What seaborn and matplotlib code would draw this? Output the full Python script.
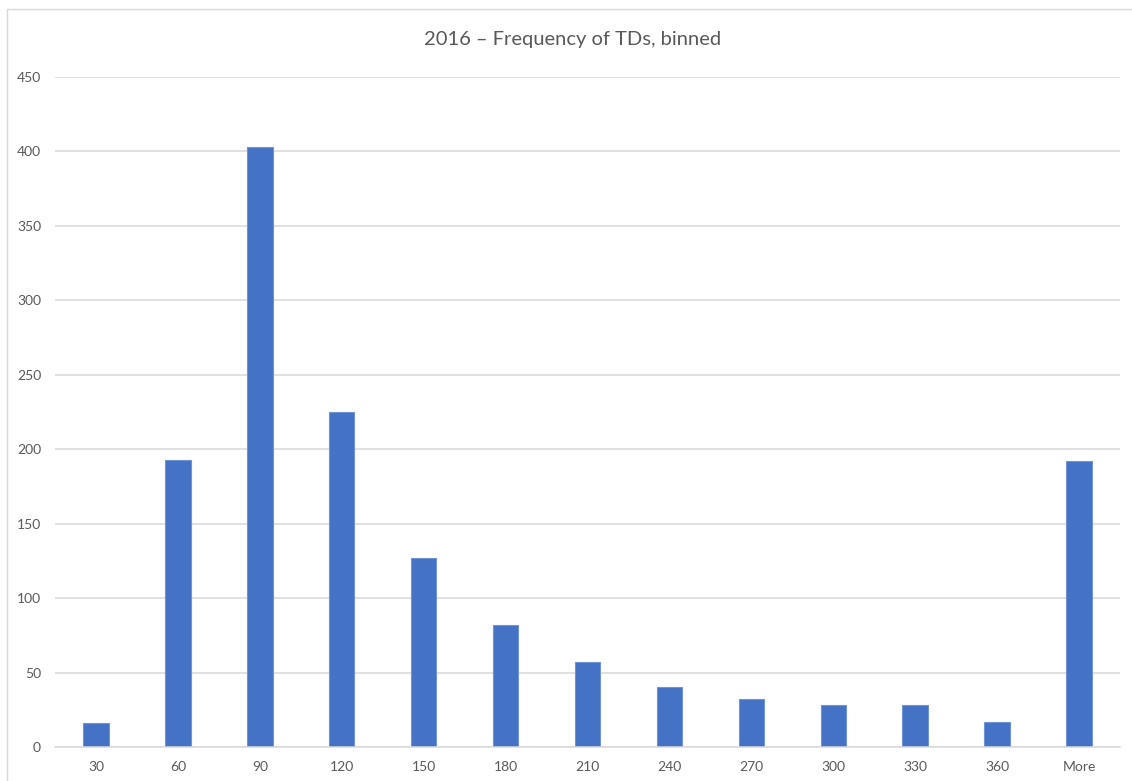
import matplotlib
matplotlib.use("Agg")
import matplotlib.pyplot as plt
from matplotlib.patches import Rectangle
import pandas as pd
import seaborn as sns

# Histogram bins (upper edge of each bin) and their counts
bins = ["30", "60", "90", "120", "150", "180", "210", "240", "270", "300", "330", "360", "More"]
counts = [16, 193, 403, 225, 127, 82, 57, 40, 32, 28, 28, 17, 192]
y_ticks = [0, 50, 100, 150, 200, 250, 300, 350, 400, 450]
title = "2016 – Frequency of TDs, binned"

sns.set_theme(style="white")
plt.rcParams["font.family"] = ["Lato", "DejaVu Sans"]

W, H = 1132, 781
fig = plt.figure(figsize=(W / 100, H / 100), dpi=100)
ax = fig.add_axes([55 / W, 34 / H, (1120 - 55) / W, (747 - 77) / H])

df = pd.DataFrame({"bin": bins, "count": counts})
sns.barplot(data=df, x="bin", y="count", order=bins, color="#4472C4",
            saturation=1, width=0.31, edgecolor="#6F93D6", linewidth=0.8, ax=ax)

ax.set_ylim(0, 450)
ax.set_xlim(-0.5, len(bins) - 0.5)
ax.set_yticks(y_ticks)
ax.yaxis.grid(True, color="#D9D9D9", linewidth=1.1)
ax.set_axisbelow(True)
for side in ["left", "right", "top"]:
    ax.spines[side].set_visible(False)
ax.spines["bottom"].set_color("#D9D9D9")
ax.spines["bottom"].set_linewidth(1.1)
ax.tick_params(axis="both", length=0, labelsize=10, labelcolor="#595959")
ax.tick_params(axis="y", pad=10)
ax.tick_params(axis="x", pad=10)
ax.set_xlabel("")
ax.set_ylabel("")

fig.text(573 / W, 1 - 40 / H, title, ha="center", va="center",
         fontsize=14.5, color="#595959")

# Light chart-area border
fig.patches.append(Rectangle((7 / W, -0.05), 1.2, 1 - 9 / H + 0.05,
                             transform=fig.transFigure, fill=False,
                             edgecolor="#D9D9D9", linewidth=1.0))

fig.savefig("out.png", dpi=100)
